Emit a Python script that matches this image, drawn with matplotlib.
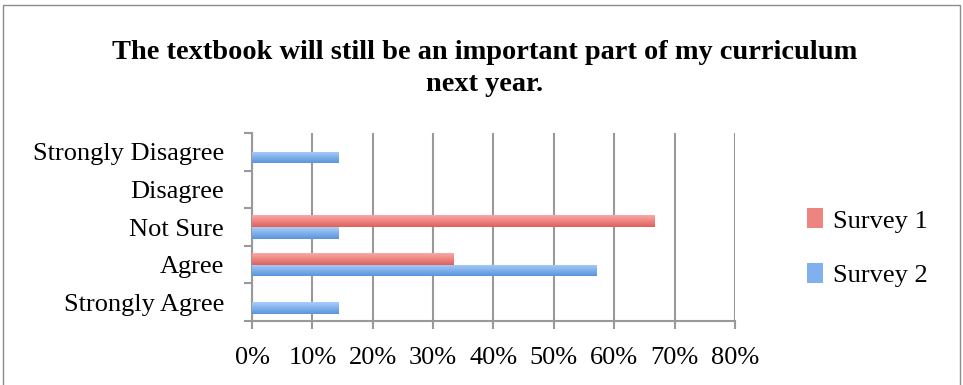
import numpy as np
import matplotlib
matplotlib.use("Agg")
import matplotlib.pyplot as plt
from matplotlib.patches import Rectangle
from matplotlib.colors import LinearSegmentedColormap

categories = ["Strongly Agree", "Agree", "Not Sure", "Disagree", "Strongly Disagree"]
survey1 = [0.0, 33.3, 66.7, 0.0, 0.0]
survey2 = [14.3, 57.1, 14.3, 0.0, 14.3]
xticks = [0, 10, 20, 30, 40, 50, 60, 70, 80]
title = "The textbook will still be an important part of my curriculum\nnext year."

plt.rcParams["font.family"] = ["Liberation Serif", "DejaVu Serif"]

fig = plt.figure(figsize=(9.63, 3.85), dpi=100)
ax = fig.add_axes([0.2617, 0.1662, 0.7632 - 0.2617, 0.6545 - 0.1662])

# borde exterior del gráfico
fig.patches.append(Rectangle((3 / 963, -0.05), 957 / 963, 1 - 5 / 385 + 0.05,
                             transform=fig.transFigure, fill=False,
                             edgecolor="#8c8c8c", lw=1.0))

y = np.arange(len(categories))
h = 0.31
b1 = ax.barh(y + h / 2, survey1, height=h, color="#ee8480", zorder=3, label="Survey 1")
b2 = ax.barh(y - h / 2, survey2, height=h, color="#80b0ee", zorder=3, label="Survey 2")

# degradado vertical como en Excel
cm_red = LinearSegmentedColormap.from_list("r", ["#e0605a", "#f9a9a6"])
cm_blue = LinearSegmentedColormap.from_list("b", ["#5a95dc", "#a9cdfb"])
grad = np.linspace(0, 1, 50).reshape(-1, 1)
for bars, cm in ((b1, cm_red), (b2, cm_blue)):
    for p in bars:
        w = p.get_width()
        if w <= 0:
            continue
        x0, y0 = p.get_x(), p.get_y()
        im = ax.imshow(grad, cmap=cm, aspect="auto", origin="lower",
                       extent=(x0, x0 + w, y0, y0 + p.get_height()), zorder=4)
        im.set_clip_path(p)

ax.set_xlim(0, 80)
ax.set_ylim(-0.5, len(categories) - 0.5)
ax.set_xticks(xticks)
ax.set_xticklabels([f"{v}%" for v in xticks])
ax.set_yticks(y)
ax.set_yticklabels(categories)
ax.set_yticks(np.arange(len(categories) + 1) - 0.5, minor=True)

ax.grid(axis="x", color="#999999", lw=1.5, zorder=1)
for s in ("top", "right"):
    ax.spines[s].set_visible(False)
for s in ("left", "bottom"):
    ax.spines[s].set_color("#999999")
    ax.spines[s].set_linewidth(1.5)

ax.tick_params(axis="y", which="major", length=0, pad=20, labelsize=19)
ax.tick_params(axis="y", which="minor", length=6, width=1.5, color="#999999")
ax.tick_params(axis="x", which="major", length=6, width=1.5, color="#999999",
               pad=13, labelsize=19)

fig.text(0.503, 0.822, title, ha="center", va="center", fontsize=20.4,
         fontweight="bold", linespacing=1.4)

leg = ax.legend(handles=[b1, b2], loc="center left", bbox_to_anchor=(1.1, 0.39),
                frameon=False, fontsize=19, handlelength=0.6, handleheight=0.8,
                handletextpad=0.4, labelspacing=1.15)

fig.savefig("out.png", dpi=100)
